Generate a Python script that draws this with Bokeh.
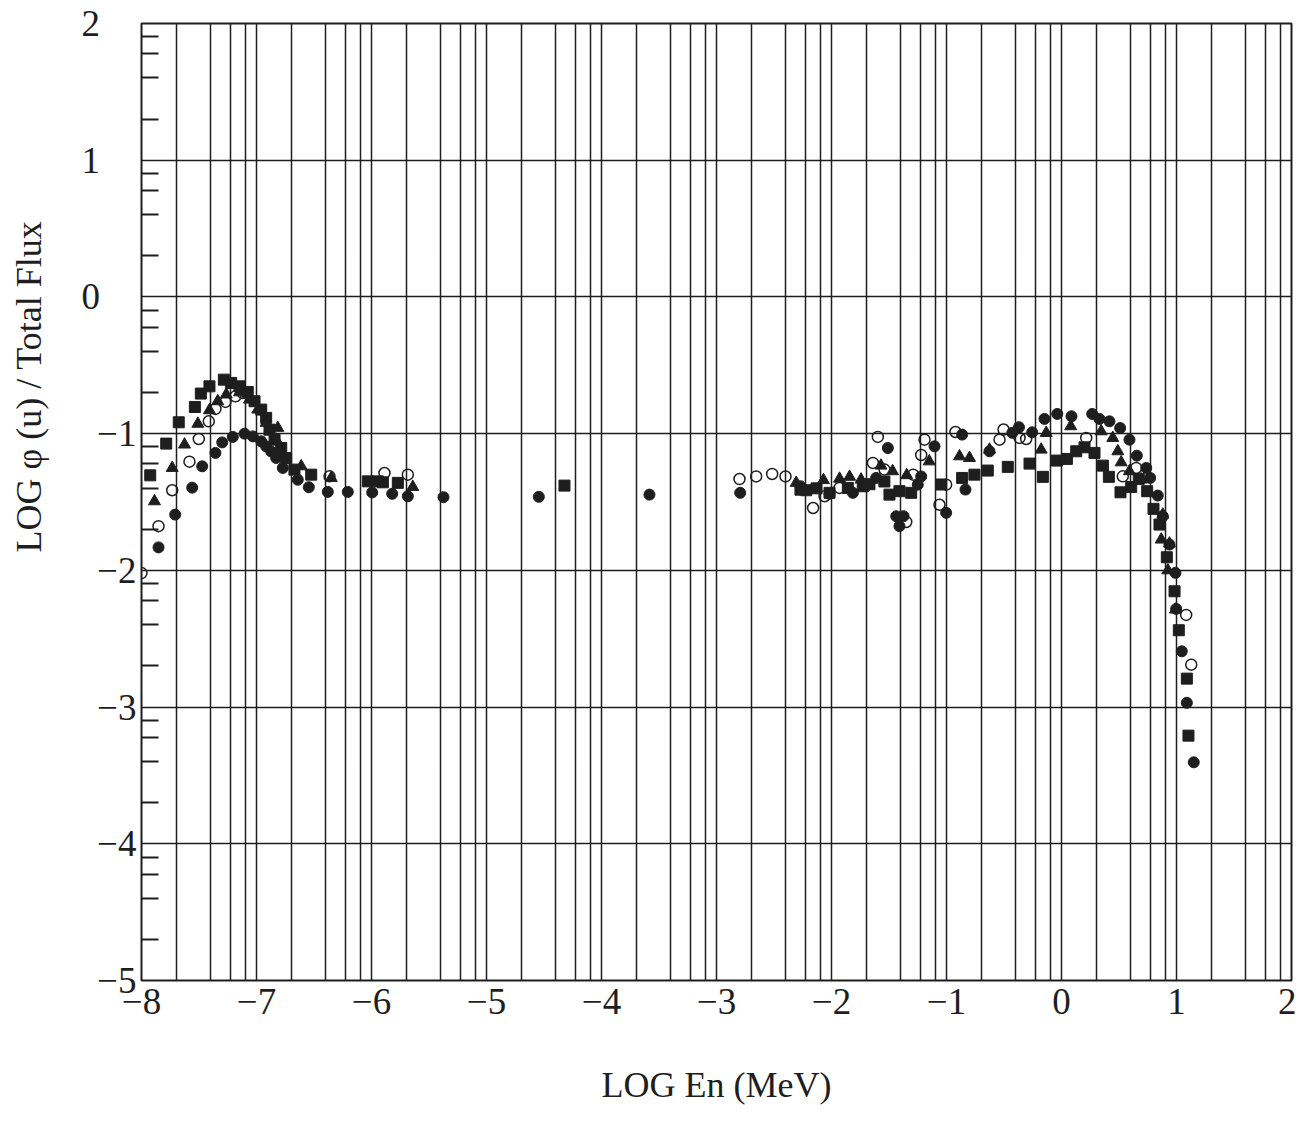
import numpy as np
from bokeh.plotting import figure
from bokeh.models import FixedTicker, Range1d, Title
from bokeh.embed import file_html
from bokeh.resources import INLINE

# ---- data ----
sq_x = [-7.924, -7.785, -7.676, -7.536, -7.484, -7.409, -7.284, -7.22, -7.148, -7.076, -7.017, -6.959,
        -6.916, -6.887, -6.843, -6.785, -6.742, -6.67, -6.524, -6.032, -5.945, -5.901, -5.771, -4.322,
        -2.27, -2.22, -2.13, -2.017, -1.858, -1.728, -1.67, -1.54, -1.496, -1.409, -1.307, -1.046,
        -0.864, -0.757, -0.641, -0.467, -0.278, -0.162, -0.04, 0.047, 0.128, 0.2, 0.287, 0.36, 0.412,
        0.513, 0.606, 0.672, 0.745, 0.8, 0.852, 0.916, 0.983, 1.02, 1.09, 1.104]
sq_y = [-1.305, -1.073, -0.917, -0.805, -0.707, -0.654, -0.605, -0.629, -0.654, -0.695, -0.763, -0.824,
        -0.885, -0.971, -1.044, -1.105, -1.178, -1.263, -1.30, -1.349, -1.349, -1.356, -1.36, -1.38,
        -1.41, -1.414, -1.40, -1.433, -1.397, -1.385, -1.37, -1.35, -1.446, -1.421, -1.433, -1.372,
        -1.324, -1.30, -1.27, -1.243, -1.219, -1.316, -1.197, -1.185, -1.129, -1.10, -1.141, -1.234, -1.316,
        -1.429, -1.39, -1.331, -1.421, -1.55, -1.665, -1.904, -2.153, -2.438, -2.792, -3.209]

fc_x = [-7.852, -7.707, -7.559, -7.472, -7.357, -7.298, -7.206, -7.104, -7.032, -6.959, -6.916, -6.872,
        -6.829, -6.771, -6.641, -6.545, -6.38, -6.206, -5.994, -5.82, -5.684, -5.374, -4.545, -3.583,
        -2.794, -2.27, -2.017, -1.814, -1.699, -1.612, -1.51, -1.437, -1.409, -1.374, -1.25, -1.22,
        -1.104, -1.003, -0.864, -0.835, -0.626, -0.428, -0.37, -0.255, -0.148, -0.037, 0.087, 0.267,
        0.33, 0.417, 0.51, 0.591, 0.655, 0.737, 0.771, 0.837, 0.881, 0.939, 0.991, 0.997, 1.046, 1.09, 1.15]
fc_y = [-1.832, -1.592, -1.395, -1.239, -1.141, -1.064, -1.024, -1.0, -1.02, -1.056, -1.093, -1.13,
        -1.178, -1.251, -1.337, -1.392, -1.426, -1.426, -1.43, -1.44, -1.458, -1.465, -1.462, -1.446,
        -1.433, -1.385, -1.44, -1.433, -1.385, -1.324, -1.105, -1.604, -1.677, -1.604, -1.373, -1.313,
        -1.093, -1.579, -1.007, -1.409, -1.129, -0.994, -0.953, -0.99, -0.892, -0.856, -0.873, -0.856,
        -0.892, -0.91, -0.959, -1.044, -1.161, -1.251, -1.324, -1.453, -1.604, -1.811, -2.018, -2.282, -2.592, -2.969, -3.404]

tr_x = [-7.887, -7.733, -7.626, -7.51, -7.409, -7.337, -7.263, -7.148, -7.061, -6.989, -6.916, -6.815,
        -6.829, -6.771, -6.611, -6.35, -5.641, -2.307, -2.07, -1.93, -1.843, -1.743, -1.57, -1.469,
        -1.346, -1.15, -0.887, -0.8, -0.626, -0.177, -0.133, 0.08, 0.345, 0.446, 0.49, 0.519, 0.591,
        0.693, 0.765, 0.881, 0.867, 0.939, 0.925, 0.991]
tr_y = [-1.495, -1.251, -1.08, -0.928, -0.829, -0.763, -0.714, -0.698, -0.751, -0.824, -0.921, -0.958,
        -1.044, -1.141, -1.239, -1.324, -1.39, -1.36, -1.34, -1.33, -1.316, -1.336, -1.234, -1.275,
        -1.304, -1.203, -1.166, -1.178, -1.117, -1.117, -0.995, -0.946, -0.983, -1.032, -1.129, -1.21, -1.275,
        -1.336, -1.433, -1.592, -1.775, -1.804, -2.0, -2.287]

oc_x = [-8.0, -7.852, -7.733, -7.583, -7.502, -7.415, -7.357, -7.27, -7.183, -7.119, -6.365, -5.887,
        -5.684, -2.8, -2.655, -2.516, -2.4, -2.16, -2.06, -1.93, -1.64, -1.597, -1.539, -1.35, -1.29,
        -1.22, -1.191, -1.061, -1.003, -0.922, -0.539, -0.504, -0.365, -0.307, 0.215, 0.533, 0.65,
        1.084, 1.128]
oc_y = [-2.02, -1.677, -1.414, -1.205, -1.039, -0.91, -0.819, -0.768, -0.727, -0.703, -1.312, -1.288,
        -1.30, -1.332, -1.313, -1.295, -1.313, -1.544, -1.458, -1.397, -1.214, -1.024, -1.263, -1.646, -1.30,
        -1.156, -1.044, -1.52, -1.373, -0.988, -1.044, -0.97, -1.031, -1.039, -1.031, -1.312, -1.251,
        -2.326, -2.69]

x_major = [-8, -7, -6, -5, -4, -3, -2, -1, 0, 1, 2]
y_major = [2, 1, 0, -1, -2, -3, -4, -5]
sub_steps = [2, 4, 6, 8]
x_label = "LOG En (MeV)"
y_label = "LOG  \u03c6 (u) / Total Flux"

FONT = "Liberation Serif"
INK = "#1e1e1e"
PAD = "\u2007\u2009\u2009\u200a"

p = figure(width=1296, height=1120, output_backend="svg", toolbar_location=None,
           x_range=Range1d(-8, 2), y_range=Range1d(-5, 2),
           min_border_left=141, min_border_right=5, min_border_top=23, min_border_bottom=140)
p.background_fill_color = "white"
p.border_fill_color = "white"
p.outline_line_color = INK
p.outline_line_width = 2

x_minor = [d + np.log10(s) for d in x_major[:-1] for s in sub_steps]
y_minor = [d + np.log10(s) for d in y_major[1:] for s in sub_steps]

p.xgrid.ticker = FixedTicker(ticks=sorted(x_major + x_minor))
p.xgrid.grid_line_color = INK
p.xgrid.grid_line_width = 1.5
p.ygrid.ticker = FixedTicker(ticks=y_major)
p.ygrid.grid_line_color = INK
p.ygrid.grid_line_width = 1.5

p.xaxis.ticker = FixedTicker(ticks=x_major)
p.yaxis.ticker = FixedTicker(ticks=y_major, minor_ticks=y_minor)
for ax in (p.xaxis[0], p.yaxis[0]):
    ax.axis_line_color = None
    ax.major_tick_in = 0
    ax.major_tick_out = 0
    ax.major_label_text_font = FONT
    ax.major_label_text_font_size = "37px"
    ax.major_label_text_color = INK
p.xaxis.minor_tick_line_color = None
p.yaxis.minor_tick_in = 17
p.yaxis.minor_tick_out = 0
p.yaxis.minor_tick_line_color = INK
p.yaxis.minor_tick_line_width = 2
p.xaxis.major_label_standoff = 8
p.yaxis.major_label_standoff = 5
p.xaxis.major_label_overrides = {v: str(v).replace("-", "\u2212") for v in x_major}
p.yaxis.major_label_overrides = {v: (PAD + str(v).replace("-", "\u2212") if v < 0 else str(v) + PAD)
                                 for v in y_major}

p.xaxis.axis_label = x_label
p.xaxis.axis_label_text_font = FONT
p.xaxis.axis_label_text_font_size = "36px"
p.xaxis.axis_label_text_font_style = "normal"
p.xaxis.axis_label_text_color = INK
p.xaxis.axis_label_standoff = 48

p.scatter(sq_x, sq_y, marker="square", size=11, fill_color=INK, line_color=INK)
p.scatter(fc_x, fc_y, marker="circle", size=11, fill_color=INK, line_color=INK)
p.scatter(tr_x, tr_y, marker="triangle", size=12, fill_color=INK, line_color=INK)
p.scatter(oc_x, oc_y, marker="circle", size=11, fill_color=None, line_color=INK, line_width=1.5)

p.add_layout(Title(text=y_label, align="left", vertical_align="top", offset=428, text_font=FONT,
                   text_font_size="36px", text_font_style="normal", text_color=INK, standoff=14), "left")

open("out.html", "w").write(file_html(p, INLINE))
